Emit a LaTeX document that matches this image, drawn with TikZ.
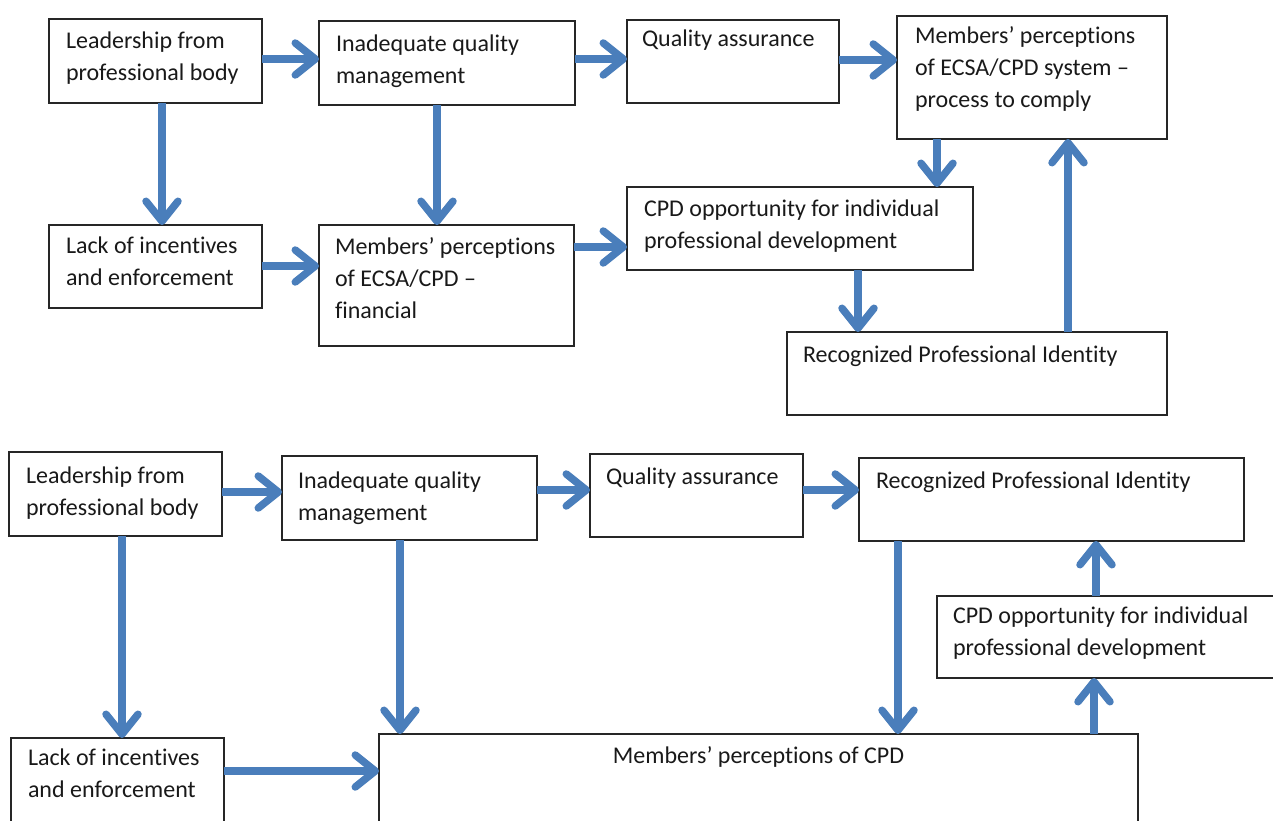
\documentclass[tikz,border=0pt]{standalone}
\usepackage{fontspec}
\setmainfont{Carlito}[Ligatures=NoCommon]
\usetikzlibrary{arrows.meta}
\definecolor{flow}{RGB}{74,126,187}
\newcommand{\firstline}{\vrule height 22pt depth 0pt width 0pt}
\begin{document}
\begin{tikzpicture}[x=1pt,y=-1pt,
  box/.style={draw=black!85, line width=1.6pt, rectangle, inner sep=0pt, outer sep=0pt, anchor=north west},
  txt/.style={anchor=north west, inner sep=0pt, outer sep=0pt, align=left, text=black!90,
              font=\fontsize{24}{32}\selectfont},
  flowarrow/.style={draw=flow, line width=7.5pt, -{Straight Barb[round,length=20pt,width=32pt]}},
]
\useasboundingbox (0,0) rectangle (1273,821);
\begin{scope}
\clip (0,0) rectangle (1273,821);

% ---------- upper model ----------
\node[box, minimum width=213pt, minimum height=84pt]  (a1) at (49,19)  {};
\node[box, minimum width=256pt, minimum height=84pt]  (a2) at (319,21) {};
\node[box, minimum width=212pt, minimum height=83pt]  (a3) at (627,20) {};
\node[box, minimum width=270pt, minimum height=123pt] (a4) at (897,16) {};
\node[box, minimum width=213pt, minimum height=83pt]  (b1) at (49,225) {};
\node[box, minimum width=255pt, minimum height=121pt] (b2) at (319,225) {};
\node[box, minimum width=346pt, minimum height=83pt]  (b3) at (627,187) {};
\node[box, minimum width=380pt, minimum height=83pt]  (b4) at (787,332) {};

\node[txt] (a1t) at ([xshift=17pt,yshift=-8pt]a1.north west) {\firstline Leadership from\\professional body};
\node[txt] (a2t) at ([xshift=17pt,yshift=-9pt]a2.north west) {\firstline Inadequate quality\\management};
\node[txt] (a3t) at ([xshift=15pt,yshift=-5pt]a3.north west) {\firstline Quality assurance};
\node[txt] (a4t) at ([xshift=18pt,yshift=-6pt]a4.north west) {\firstline Members’ perceptions\\of ECSA/CPD system –\\process to comply};
\node[txt] (b1t) at ([xshift=17pt,yshift=-6pt]b1.north west) {\firstline Lack of incentives\\and enforcement};
\node[txt] (b2t) at ([xshift=16pt,yshift=-7pt]b2.north west) {\firstline Members’ perceptions\\of ECSA/CPD –\\financial};
\node[txt] (b3t) at ([xshift=17pt,yshift=-7pt]b3.north west) {\firstline CPD opportunity for individual\\professional development};
\node[txt] (b4t) at ([xshift=16pt,yshift=-8pt]b4.north west) {\firstline Recognized Professional Identity};

% ---------- lower model ----------
\node[box, minimum width=213pt, minimum height=84pt] (c1) at (9,452)   {};
\node[box, minimum width=255pt, minimum height=84pt] (c2) at (282,456) {};
\node[box, minimum width=213pt, minimum height=83pt] (c3) at (590,454) {};
\node[box, minimum width=385pt, minimum height=83pt] (c4) at (859,458) {};
\node[box, minimum width=345pt, minimum height=82pt] (c5) at (937,596) {};
\node[box, minimum width=213pt, minimum height=95pt] (d1) at (11,738)  {};
\node[box, minimum width=759pt, minimum height=95pt] (d2) at (379,734) {};

\node[txt] (c1t) at ([xshift=17pt,yshift=-9pt]c1.north west)  {\firstline Leadership from\\professional body};
\node[txt] (c2t) at ([xshift=16pt,yshift=-10pt]c2.north west) {\firstline Inadequate quality\\management};
\node[txt] (c3t) at ([xshift=16pt,yshift=-8pt]c3.north west)  {\firstline Quality assurance};
\node[txt] (c4t) at ([xshift=17pt,yshift=-8pt]c4.north west)  {\firstline Recognized Professional Identity};
\node[txt] (c5t) at ([xshift=16pt,yshift=-5pt]c5.north west)  {\firstline CPD opportunity for individual\\professional development};
\node[txt] (d1t) at ([xshift=17pt,yshift=-5pt]d1.north west)  {\firstline Lack of incentives\\and enforcement};
\node[txt, anchor=north] (d2t) at ([yshift=-7pt]d2.north)     {\firstline Members’ perceptions of CPD};

% ---------- connector start points ----------
\coordinate (h1) at ([yshift=-40pt]a1.north east);
\coordinate (h2) at ([yshift=-38pt]a2.north east);
\coordinate (h3) at ([yshift=-40pt]a3.north east);
\coordinate (h4) at ([yshift=-41pt]b1.north east);
\coordinate (h5) at ([yshift=-22pt]b2.north east);
\coordinate (h6) at ([yshift=-40pt]c1.north east);
\coordinate (h7) at ([yshift=-34pt]c2.north east);
\coordinate (h8) at ([yshift=-36pt]c3.north east);
\coordinate (h9) at ([yshift=-33pt]d1.north east);

\coordinate (v1)  at ([xshift=113pt]a1.south west);
\coordinate (v2)  at ([xshift=118pt]a2.south west);
\coordinate (v3)  at ([xshift=40pt]a4.south west);
\coordinate (v4)  at ([xshift=231pt]b3.south west);
\coordinate (v5)  at ([xshift=281pt]b4.north west);
\coordinate (v6)  at ([xshift=113pt]c1.south west);
\coordinate (v7)  at ([xshift=118pt]c2.south west);
\coordinate (v8)  at ([xshift=39pt]c4.south west);
\coordinate (v9)  at ([xshift=159pt]c5.north west);
\coordinate (v10) at ([xshift=715pt]d2.north west);

% ---------- connectors, upper model ----------
\draw[flowarrow] (h1) -- (h1 -| a2.west);
\draw[flowarrow] (h2) -- (h2 -| a3.west);
\draw[flowarrow] (h3) -- (h3 -| a4.west);
\draw[flowarrow] (h4) -- (h4 -| b2.west);
\draw[flowarrow] (h5) -- (h5 -| b3.west);
\draw[flowarrow] (v1) -- (v1 |- b1.north);
\draw[flowarrow] (v2) -- (v2 |- b2.north);
\draw[flowarrow] (v3) -- (v3 |- b3.north);
\draw[flowarrow] (v4) -- (v4 |- b4.north);
\draw[flowarrow] (v5) -- (v5 |- a4.south);

% ---------- connectors, lower model ----------
\draw[flowarrow] (h6) -- (h6 -| c2.west);
\draw[flowarrow] (h7) -- (h7 -| c3.west);
\draw[flowarrow] (h8) -- (h8 -| c4.west);
\draw[flowarrow] (h9) -- (h9 -| d2.west);
\draw[flowarrow] (v6) -- (v6 |- d1.north);
\draw[flowarrow] (v7) -- (v7 |- d2.north);
\draw[flowarrow] (v8) -- (v8 |- d2.north);
\draw[flowarrow] (v9) -- (v9 |- c4.south);
\draw[flowarrow] (v10) -- (v10 |- c5.south);
\end{scope}
\end{tikzpicture}
\end{document}
